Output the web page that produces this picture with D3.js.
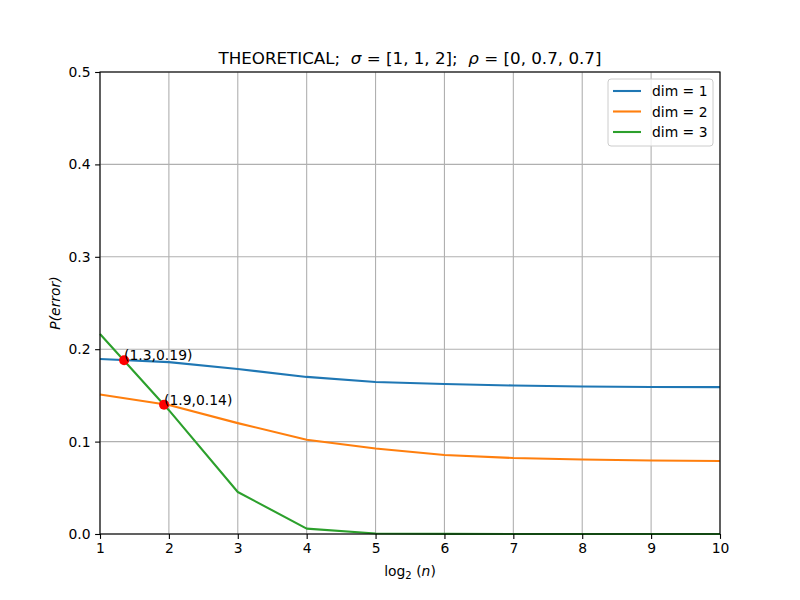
<!DOCTYPE html>
<html>
<head>
<meta charset="utf-8">
<script src="https://cdn.jsdelivr.net/npm/d3@7"></script>
<style>
  body { margin: 0; background: #fff; }
  text { font-family: "DejaVu Sans", sans-serif; white-space: pre; }
  .tick text { font-size: 13.9px; fill: #000; }
  .tick line { stroke: #000; stroke-width: 1.1px; }
  .domain { display: none; }
  .grid line { stroke: #b0b0b0; stroke-width: 1.1px; }
</style>
</head>
<body>
<div id="vis"></div>
<script>
// data
const LOG_N = [1, 2, 3, 4, 5, 6, 7, 8, 9, 10];
const DIM1 = [0.1894, 0.186, 0.1786, 0.170, 0.1645, 0.1623, 0.1607, 0.1596, 0.1591, 0.159];
const DIM2 = [0.151, 0.1396, 0.120, 0.102, 0.0925, 0.0855, 0.0822, 0.0806, 0.0795, 0.079];
const DIM3 = [0.2165, 0.134, 0.0455, 0.0058, 0.0006, 0.0001, 0, 0, 0, 0];
const SERIES_NAMES = ["dim = 1", "dim = 2", "dim = 3"];
const COLORS = ["#1f77b4", "#ff7f0e", "#2ca02c"];
const MARK_X = [1.35, 1.93];
const MARK_Y = [0.188, 0.14];
const MARK_LABELS = ["(1.3,0.19)", "(1.9,0.14)"];
const X_TICKS = [1, 2, 3, 4, 5, 6, 7, 8, 9, 10];
const Y_TICKS = [0, 0.1, 0.2, 0.3, 0.4, 0.5];

const WIDTH = 800, HEIGHT = 600;
const MARGINS = {left: 100, right: 80, top: 72, bottom: 66};

const svg = d3.select("#vis").append("svg")
              .attr("width", WIDTH)
              .attr("height", HEIGHT);

const X_SCALE = d3.scaleLinear().domain([1, 10]).range([MARGINS.left, WIDTH - MARGINS.right]);
const Y_SCALE = d3.scaleLinear().domain([0, 0.5]).range([HEIGHT - MARGINS.bottom, MARGINS.top]);

// grid
svg.append("g").attr("class", "grid")
   .selectAll("line").data(X_TICKS).enter().append("line")
   .attr("x1", d => X_SCALE(d)).attr("x2", d => X_SCALE(d))
   .attr("y1", Y_SCALE(0)).attr("y2", Y_SCALE(0.5));
svg.append("g").attr("class", "grid")
   .selectAll("line").data(Y_TICKS).enter().append("line")
   .attr("y1", d => Y_SCALE(d)).attr("y2", d => Y_SCALE(d))
   .attr("x1", X_SCALE(1)).attr("x2", X_SCALE(10));

// lines
const series = [DIM1, DIM2, DIM3];
const line = d3.line().x((d, i) => X_SCALE(LOG_N[i])).y(d => Y_SCALE(d));
series.forEach((s, k) => {
  svg.append("path").datum(s)
     .attr("d", line)
     .attr("fill", "none")
     .attr("stroke", COLORS[k])
     .attr("stroke-width", 2.1)
     .attr("stroke-linejoin", "round");
});

// intersection markers
const marks = MARK_X.map((x, i) => ({x: x, y: MARK_Y[i], label: MARK_LABELS[i]}));
svg.selectAll("circle.mark").data(marks).enter().append("circle")
   .attr("class", "mark")
   .attr("cx", d => X_SCALE(d.x)).attr("cy", d => Y_SCALE(d.y))
   .attr("r", 5).attr("fill", "red");
svg.selectAll("text.mark").data(marks).enter().append("text")
   .attr("class", "mark")
   .attr("x", d => X_SCALE(d.x)).attr("y", d => Y_SCALE(d.y))
   .attr("font-size", "13.9px")
   .text(d => d.label);

// axes
svg.append("g")
   .attr("transform", "translate(0," + Y_SCALE(0) + ")")
   .call(d3.axisBottom(X_SCALE).tickValues(X_TICKS).tickSize(4.9).tickPadding(4.5).tickFormat(d3.format("d")));
svg.append("g")
   .attr("transform", "translate(" + X_SCALE(1) + ",0)")
   .call(d3.axisLeft(Y_SCALE).tickValues(Y_TICKS).tickSize(4.9).tickPadding(4.5).tickFormat(d3.format(".1f")));

// frame
svg.append("rect")
   .attr("x", X_SCALE(1)).attr("y", Y_SCALE(0.5))
   .attr("width", X_SCALE(10) - X_SCALE(1))
   .attr("height", Y_SCALE(0) - Y_SCALE(0.5))
   .attr("fill", "none").attr("stroke", "#000").attr("stroke-width", 1.1);

// title
const title = svg.append("text")
   .attr("x", (X_SCALE(1) + X_SCALE(10)) / 2).attr("y", 64)
   .attr("text-anchor", "middle").attr("font-size", "16.7px");
title.append("tspan").text("THEORETICAL;  ");
title.append("tspan").attr("font-style", "italic").text("σ");
title.append("tspan").text(" = [1, 1, 2];  ");
title.append("tspan").attr("font-style", "italic").text("ρ");
title.append("tspan").text(" = [0, 0.7, 0.7]");

// x label
const xl = svg.append("text")
   .attr("x", (X_SCALE(1) + X_SCALE(10)) / 2).attr("y", 576)
   .attr("text-anchor", "middle").attr("font-size", "13.9px");
xl.append("tspan").text("log");
xl.append("tspan").attr("font-size", "10px").attr("dy", 3).text("2");
xl.append("tspan").attr("dy", -3).text(" (");
xl.append("tspan").attr("font-style", "italic").text("n");
xl.append("tspan").text(")");

// y label
svg.append("text")
   .attr("transform", "translate(60," + (Y_SCALE(0.25)) + ") rotate(-90)")
   .attr("text-anchor", "middle").attr("font-size", "13.9px")
   .attr("font-style", "italic")
   .text("P(error)");

// legend
const legend = svg.append("g").attr("transform", "translate(608,79)");
legend.append("rect")
   .attr("width", 105).attr("height", 67).attr("rx", 3)
   .attr("fill", "#fff").attr("fill-opacity", 0.8)
   .attr("stroke", "#ccc").attr("stroke-width", 1);
SERIES_NAMES.forEach((name, i) => {
  const y = 12 + i * 20.5;
  legend.append("line")
        .attr("x1", 5).attr("x2", 33).attr("y1", y).attr("y2", y)
        .attr("stroke", COLORS[i]).attr("stroke-width", 2.1);
  legend.append("text")
        .attr("x", 44).attr("y", y + 5)
        .attr("font-size", "13.9px")
        .text(name);
});
</script>
</body>
</html>
